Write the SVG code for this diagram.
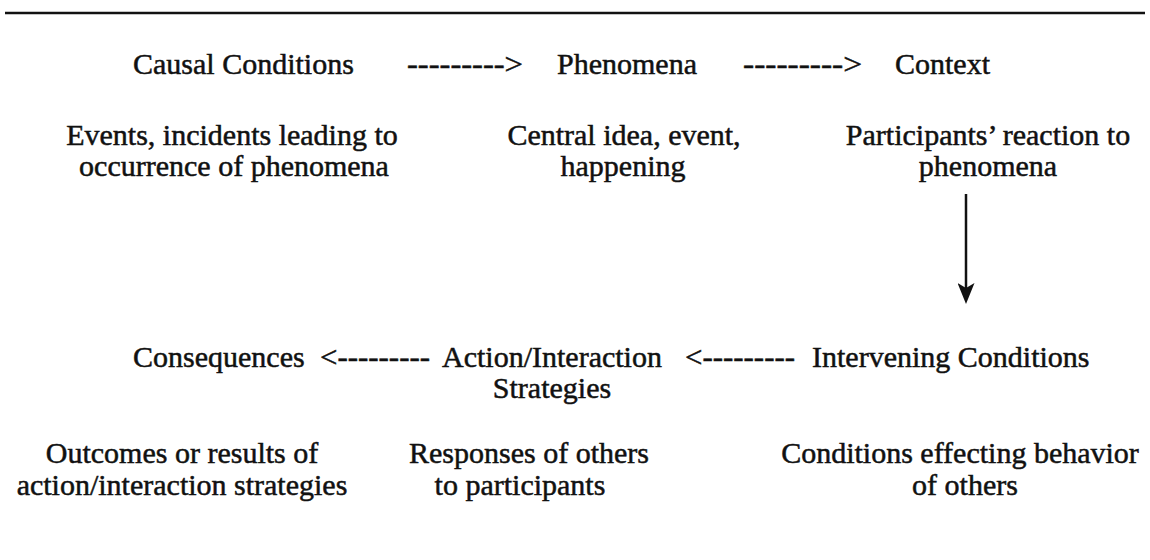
<svg xmlns="http://www.w3.org/2000/svg" width="1150" height="560" viewBox="0 0 1150 560">
<style>
text{font-family:"Liberation Serif","Times New Roman",serif;font-size:30px;fill:#111;stroke:#111;stroke-width:0.5}
.m{text-anchor:middle}
.rule{stroke:#111;stroke-width:2.5}
.conn{stroke:#111;stroke-width:2.5;fill:none}
</style>
<defs>
<marker id="ah" viewBox="0 0 21 17" refX="9" refY="8.5" markerWidth="21" markerHeight="17" markerUnits="userSpaceOnUse" orient="auto">
<path d="M0,0 L21,8.5 L0,17 L5,8.5 Z" fill="#111"/>
</marker>
</defs>
<rect width="1150" height="560" fill="#fff"/>
<line class="rule" x1="5" y1="13" x2="1145" y2="13"/>
<g id="causal"><text x="133" y="74">Causal Conditions</text><text class="m" x="232" y="145">Events, incidents leading to</text><text class="m" x="234" y="176">occurrence of phenomena</text></g>
<g id="phenomena"><text x="557" y="74">Phenomena</text><text class="m" x="624" y="145">Central idea, event,</text><text class="m" x="623" y="176">happening</text></g>
<g id="context"><text x="895" y="74">Context</text><text class="m" x="988" y="145">Participants’ reaction to</text><text class="m" x="988" y="176">phenomena</text></g>
<g id="intervening"><text x="812" y="367">Intervening Conditions</text><text class="m" x="960" y="463">Conditions effecting behavior</text><text class="m" x="965" y="495">of others</text></g>
<g id="strategies"><text class="m" x="552" y="367">Action/Interaction</text><text class="m" x="552" y="398">Strategies</text><text class="m" x="529" y="463">Responses of others</text><text class="m" x="520" y="495">to participants</text></g>
<g id="consequences"><text x="133" y="367">Consequences</text><text class="m" x="182" y="463">Outcomes or results of</text><text class="m" x="182" y="495">action/interaction strategies</text></g>
<g id="connectors">
<text x="407" y="74" textLength="116" lengthAdjust="spacingAndGlyphs">---------&gt;</text>
<text x="743" y="74" textLength="119" lengthAdjust="spacingAndGlyphs">---------&gt;</text>
<text x="320" y="367" textLength="110" lengthAdjust="spacingAndGlyphs">&lt;---------</text>
<text x="685" y="367" textLength="110" lengthAdjust="spacingAndGlyphs">&lt;---------</text>
<line class="conn" x1="966" y1="194" x2="966" y2="292" marker-end="url(#ah)"/>
</g>
</svg>
